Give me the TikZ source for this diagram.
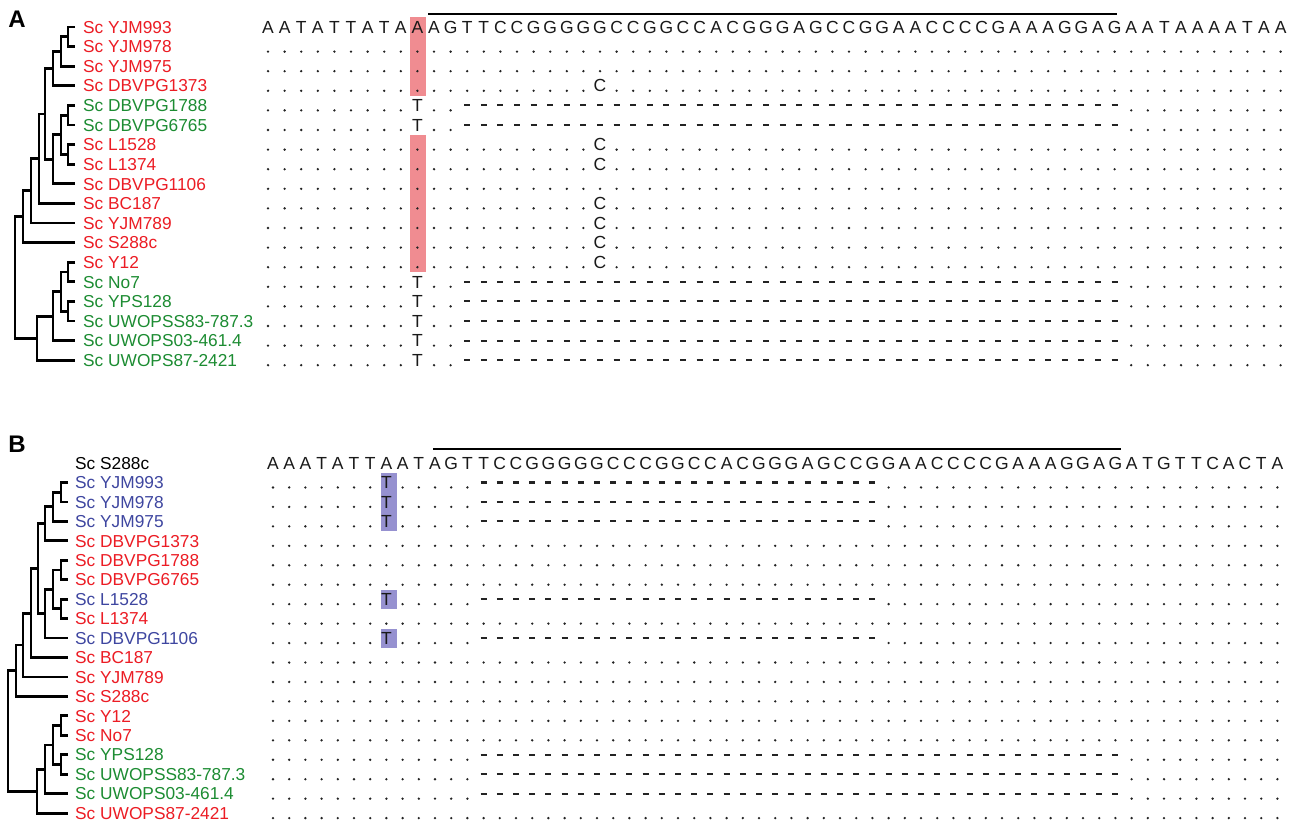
\documentclass[tikz,border=0pt]{standalone}
\usepackage{fontspec}
\setmainfont{Liberation Sans}
\usetikzlibrary{calc}
\definecolor{cred}{RGB}{236,28,36}
\definecolor{cgreen}{RGB}{28,140,50}
\definecolor{cblue}{RGB}{62,70,160}
\definecolor{cpink}{RGB}{240,140,145}
\definecolor{cpurp}{RGB}{150,145,208}
\definecolor{cdot}{RGB}{35,35,35}
\definecolor{cseq}{RGB}{25,25,25}
\newcommand\mytn[4]{%
  \coordinate (#1m) at ($(#3)!0.5!(#4)$);
  \coordinate (#1) at (#2,0 |- #1m);
  \draw[tree] (#3) -| (#1) |- (#4);}
\begin{document}
\begin{tikzpicture}[x=1pt,y=-1pt,
  tree/.style={line width=2.8pt, black},
  lab/.style={anchor=base west, inner sep=0pt, font=\fontsize{17.3}{18}\selectfont},
  seq/.style={anchor=base, inner sep=0pt, text=cseq, font=\fontsize{17.5}{18}\selectfont},
  panel/.style={anchor=center, inner sep=0pt, font=\fontsize{24}{24}\selectfont\bfseries},
  dotm/.style={fill=cdot},
  dashm/.style={line width=2.1pt, cdot},
  ]
\useasboundingbox[fill=white] (0,0) rectangle (1295,824);

% ================= Panel A =================
\node[panel] (pA) at (17,19) {A};
% highlight boxes
\fill[cpink] (409.5,17) rectangle (425.5,96);
\fill[cpink] (409.5,135) rectangle (425.5,271.5);
% header sequence
\foreach \ch [count=\c from 0] in {A,A,T,A,T,T,A,T,A,A,A,G,T,T,C,C,G,G,G,G,G,C,C,G,G,C,C,A,C,G,G,G,A,G,C,C,G,G,A,A,C,C,C,C,G,A,A,A,G,G,A,G,A,A,T,A,A,A,A,T,A,A}
  {\node[seq] (hA\c) at (268+16.6*\c, 33.2) {\ch};}
\coordinate (olA1) at (428,14);
\coordinate (olA2) at (1117,14);
\draw[line width=2.2pt] (olA1) -- (olA2);
% dot rows without differences
\foreach \r in {1,2,8}{
  \foreach \c in {0,...,61}{\fill[dotm] (268+16.6*\c, 32+19.6*\r) circle (1.3pt);}}
% rows with C
\foreach \r in {3,6,7,9,10,11,12}{
  \foreach \c in {0,...,19}{\fill[dotm] (268+16.6*\c, 32+19.6*\r) circle (1.3pt);}
  \foreach \c in {21,...,61}{\fill[dotm] (268+16.6*\c, 32+19.6*\r) circle (1.3pt);}
  \node[seq] (aC\r) at (268+16.6*20, 33.2+19.6*\r) {C};}
% rows with T and deletion
\foreach \r in {4,5,13,14,15,16,17}{
  \foreach \c in {0,...,8,10,11,52,53,...,61}{\fill[dotm] (268+16.6*\c, 32+19.6*\r) circle (1.3pt);}
  \node[seq] (aT\r) at (268+16.6*9, 33.2+19.6*\r) {T};
  \foreach \c in {12,...,51}{\draw[dashm] (265+16.6*\c, 27+19.6*\r) -- (271+16.6*\c, 27+19.6*\r);}}
% tree leaves
\foreach \i in {0,...,17}{\coordinate (aL\i) at (75, 27+19.6*\i);}
\mytn{an1}{68}{aL0}{aL1}
\mytn{an2}{61}{an1}{aL2}
\mytn{an3}{53}{an2}{aL3}
\mytn{an4}{68}{aL4}{aL5}
\mytn{an5}{68}{aL6}{aL7}
\mytn{an6}{61}{an4}{an5}
\mytn{an7}{53}{an6}{aL8}
\mytn{an8}{45}{an3}{an7}
\mytn{an9}{39}{an8}{aL9}
\mytn{an10}{31}{an9}{aL10}
\mytn{an11}{23}{an10}{aL11}
\mytn{an12}{68}{aL12}{aL13}
\mytn{an13}{68}{aL14}{aL15}
\mytn{an14}{61}{an12}{an13}
\mytn{an15}{53}{an14}{aL16}
\mytn{an16}{37}{an15}{aL17}
\mytn{anr}{15}{an11}{an16}
% labels
\foreach \t/\col [count=\i from 0] in {YJM993/cred,YJM978/cred,YJM975/cred,DBVPG1373/cred,DBVPG1788/cgreen,DBVPG6765/cgreen,L1528/cred,L1374/cred,DBVPG1106/cred,BC187/cred,YJM789/cred,S288c/cred,Y12/cred,No7/cgreen,YPS128/cgreen,UWOPSS83-787.3/cgreen,UWOPS03-461.4/cgreen,UWOPS87-2421/cgreen}
  {\node[lab, text=\col] (la\i) at (83, 33.2+19.6*\i) {Sc \t};}

% ================= Panel B =================
\node[panel] (pB) at (17,444) {B};
\fill[cpurp] (381,472.5) rectangle (397,531);
\fill[cpurp] (381,589.5) rectangle (397,609);
\fill[cpurp] (381,628.5) rectangle (397,648);
\foreach \ch [count=\c from 0] in {A,A,A,T,A,T,T,A,A,T,A,G,T,T,C,C,G,G,G,G,G,C,C,C,G,G,C,C,A,C,G,G,G,A,G,C,C,G,G,A,A,C,C,C,C,G,A,A,A,G,G,A,G,A,T,G,T,T,C,A,C,T,A}
  {\node[seq] (hB\c) at (273+16.2*\c, 469.2) {\ch};}
\coordinate (olB1) at (433,449);
\coordinate (olB2) at (1121,449);
\draw[line width=2.2pt] (olB1) -- (olB2);
% plain dot rows
\foreach \r in {4,5,6,8,10,11,12,13,14,18}{
  \foreach \c in {0,...,62}{\fill[dotm] (273+16.2*\c, 468+19.45*\r) circle (1.3pt);}}
% T rows with short deletion
\foreach \r in {1,2,3,7,9}{
  \foreach \c in {0,...,6,8,9,...,12,38,39,...,62}{\fill[dotm] (273+16.2*\c, 468+19.45*\r) circle (1.3pt);}
  \node[seq] (bT\r) at (273+16.2*7, 469.2+19.45*\r) {T};
  \foreach \c in {13,...,37}{\draw[dashm] (270+16.2*\c, 463+19.45*\r) -- (276+16.2*\c, 463+19.45*\r);}}
% rows with long deletion
\foreach \r in {15,16,17}{
  \foreach \c in {0,...,12,53,54,...,62}{\fill[dotm] (273+16.2*\c, 468+19.45*\r) circle (1.3pt);}
  \foreach \c in {13,...,52}{\draw[dashm] (270+16.2*\c, 463+19.45*\r) -- (276+16.2*\c, 463+19.45*\r);}}
% tree
\foreach \i in {1,...,18}{\coordinate (bL\i) at (68, 463+19.45*\i);}
\mytn{bn1}{61}{bL1}{bL2}
\mytn{bn2}{53}{bn1}{bL3}
\mytn{bn3}{45}{bn2}{bL4}
\mytn{bn4}{61}{bL5}{bL6}
\mytn{bn5}{61}{bL7}{bL8}
\mytn{bn6}{53}{bn4}{bn5}
\mytn{bn7}{45}{bn6}{bL9}
\mytn{bn8}{38}{bn3}{bn7}
\mytn{bn9}{31}{bn8}{bL10}
\mytn{bn10}{23}{bn9}{bL11}
\mytn{bn11}{16}{bn10}{bL12}
\mytn{bn12}{61}{bL13}{bL14}
\mytn{bn13}{61}{bL15}{bL16}
\mytn{bn14}{53}{bn12}{bn13}
\mytn{bn15}{45}{bn14}{bL17}
\mytn{bn16}{37}{bn15}{bL18}
\mytn{bnr}{8}{bn11}{bn16}
\node[lab, text=black] (lb0) at (75, 469.2) {Sc S288c};
\foreach \t/\col [count=\i from 1] in {YJM993/cblue,YJM978/cblue,YJM975/cblue,DBVPG1373/cred,DBVPG1788/cred,DBVPG6765/cred,L1528/cblue,L1374/cred,DBVPG1106/cblue,BC187/cred,YJM789/cred,S288c/cred,Y12/cred,No7/cred,YPS128/cgreen,UWOPSS83-787.3/cgreen,UWOPS03-461.4/cgreen,UWOPS87-2421/cred}
  {\node[lab, text=\col] (lb\i) at (75, 469.2+19.45*\i) {Sc \t};}
\end{tikzpicture}
\end{document}
